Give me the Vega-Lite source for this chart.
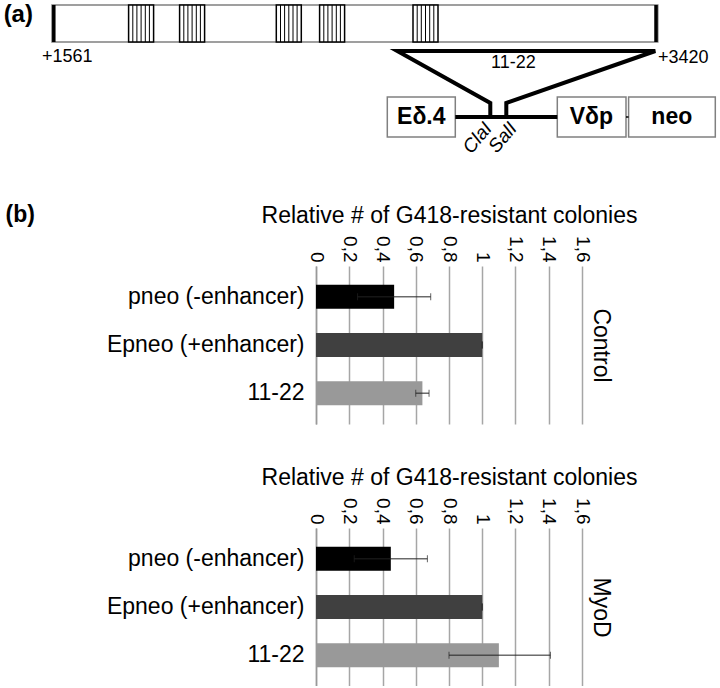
{
  "$schema": "https://vega.github.io/schema/vega-lite/v6.json",
  "padding": {"left": 3, "top": 0, "right": 0, "bottom": 0},
  "config": {"font": "Liberation Sans", "view": {"stroke": null}},
  "datasets": {
    "outlines": [
      {"part": "gene", "x": 51.7, "x2": 657.5, "y": 5, "y2": 42},
      {"part": "Eδ.4", "x": 387, "x2": 455, "y": 97, "y2": 137},
      {"part": "Vδp", "x": 557, "x2": 625.7, "y": 97, "y2": 137},
      {"part": "neo", "x": 628.3, "x2": 715, "y": 97, "y2": 137}
    ],
    "repeats": [
      {"x": 128.3, "x2": 153.3, "y": 5, "y2": 42},
      {"x": 179.3, "x2": 204.3, "y": 5, "y2": 42},
      {"x": 276, "x2": 301, "y": 5, "y2": 42},
      {"x": 319.3, "x2": 344.3, "y": 5, "y2": 42},
      {"x": 412.7, "x2": 437.7, "y": 5, "y2": 42}
    ],
    "stripes": [
      {"x": 132.5, "y": 5, "y2": 42}, {"x": 136.6, "y": 5, "y2": 42}, {"x": 140.8, "y": 5, "y2": 42}, {"x": 145.0, "y": 5, "y2": 42}, {"x": 149.1, "y": 5, "y2": 42},
      {"x": 183.5, "y": 5, "y2": 42}, {"x": 187.6, "y": 5, "y2": 42}, {"x": 191.8, "y": 5, "y2": 42}, {"x": 196.0, "y": 5, "y2": 42}, {"x": 200.1, "y": 5, "y2": 42},
      {"x": 280.2, "y": 5, "y2": 42}, {"x": 284.3, "y": 5, "y2": 42}, {"x": 288.5, "y": 5, "y2": 42}, {"x": 292.7, "y": 5, "y2": 42}, {"x": 296.8, "y": 5, "y2": 42},
      {"x": 323.5, "y": 5, "y2": 42}, {"x": 327.6, "y": 5, "y2": 42}, {"x": 331.8, "y": 5, "y2": 42}, {"x": 336.0, "y": 5, "y2": 42}, {"x": 340.1, "y": 5, "y2": 42},
      {"x": 416.9, "y": 5, "y2": 42}, {"x": 421.0, "y": 5, "y2": 42}, {"x": 425.2, "y": 5, "y2": 42}, {"x": 429.4, "y": 5, "y2": 42}, {"x": 433.5, "y": 5, "y2": 42}
    ],
    "ends": [
      {"x": 53.5, "y": 5, "y2": 42},
      {"x": 655.7, "y": 5, "y2": 42}
    ],
    "wires": [
      {"path": "insert", "step": 1, "x": 490, "y": 117},
      {"path": "insert", "step": 2, "x": 490, "y": 103},
      {"path": "insert", "step": 3, "x": 397, "y": 51},
      {"path": "insert", "step": 4, "x": 655, "y": 51},
      {"path": "insert", "step": 5, "x": 506, "y": 103},
      {"path": "insert", "step": 6, "x": 506, "y": 117},
      {"path": "backbone", "step": 1, "x": 455, "y": 117},
      {"path": "backbone", "step": 2, "x": 557, "y": 117}
    ],
    "links": [
      {"x": 625.7, "x2": 628.3, "y": 117}
    ],
    "coords": [
      {"label": "+1561", "x": 67, "y": 57},
      {"label": "+3420", "x": 683, "y": 58},
      {"label": "11-22", "x": 513, "y": 63}
    ],
    "elements": [
      {"label": "Eδ.4", "x": 421, "y": 117},
      {"label": "Vδp", "x": 591, "y": 117},
      {"label": "neo", "x": 671.5, "y": 117}
    ],
    "sites": [
      {"label": "ClaI", "x": 488, "y": 125},
      {"label": "SalI", "x": 513, "y": 125}
    ],
    "panel": [
      {"label": "(a)", "x": 18, "y": 15}
    ],
    "bars": [
      {"condition": "Control", "construct": "pneo (-enhancer)", "value": 0.47, "lo": 0.25, "hi": 0.69},
      {"condition": "Control", "construct": "Epneo (+enhancer)", "value": 1.0, "lo": 1.0, "hi": 1.0},
      {"condition": "Control", "construct": "11-22", "value": 0.64, "lo": 0.6, "hi": 0.68},
      {"condition": "MyoD", "construct": "pneo (-enhancer)", "value": 0.45, "lo": 0.23, "hi": 0.67},
      {"condition": "MyoD", "construct": "Epneo (+enhancer)", "value": 1.0, "lo": 1.0, "hi": 1.0},
      {"condition": "MyoD", "construct": "11-22", "value": 1.1, "lo": 0.8, "hi": 1.41}
    ]
  },
  "spacing": 42,
  "vconcat": [
    {
      "width": 404.3,
      "height": 161,
      "layer": [
        {
          "data": {"name": "outlines"},
          "mark": {"type": "rect", "fill": "#ffffff", "stroke": "#808080", "strokeWidth": 1.5},
          "encoding": {
            "x": {"field": "x", "type": "quantitative", "scale": {"domain": [315.7, 720], "nice": false, "zero": false}, "axis": null},
            "x2": {"field": "x2"},
            "y": {"field": "y", "type": "quantitative", "scale": {"domain": [0, 161], "reverse": true, "nice": false, "zero": false}, "axis": null},
            "y2": {"field": "y2"}
          }
        },
        {
          "data": {"name": "repeats"},
          "mark": {"type": "rect", "fill": "#ffffff", "stroke": "#000000", "strokeWidth": 1.5},
          "encoding": {
            "x": {"field": "x", "type": "quantitative"},
            "x2": {"field": "x2"},
            "y": {"field": "y", "type": "quantitative"},
            "y2": {"field": "y2"}
          }
        },
        {
          "data": {"name": "stripes"},
          "mark": {"type": "rule", "color": "#000000", "strokeWidth": 1},
          "encoding": {
            "x": {"field": "x", "type": "quantitative"},
            "y": {"field": "y", "type": "quantitative"},
            "y2": {"field": "y2"}
          }
        },
        {
          "data": {"name": "ends"},
          "mark": {"type": "rule", "color": "#000000", "strokeWidth": 3.5},
          "encoding": {
            "x": {"field": "x", "type": "quantitative"},
            "y": {"field": "y", "type": "quantitative"},
            "y2": {"field": "y2"}
          }
        },
        {
          "data": {"name": "wires"},
          "mark": {"type": "line", "color": "#000000", "strokeWidth": 4, "strokeJoin": "miter"},
          "encoding": {
            "x": {"field": "x", "type": "quantitative"},
            "y": {"field": "y", "type": "quantitative"},
            "detail": {"field": "path", "type": "nominal"},
            "order": {"field": "step", "type": "quantitative"}
          }
        },
        {
          "data": {"name": "links"},
          "mark": {"type": "rule", "color": "#000000", "strokeWidth": 1.5},
          "encoding": {
            "x": {"field": "x", "type": "quantitative"},
            "x2": {"field": "x2"},
            "y": {"field": "y", "type": "quantitative"}
          }
        },
        {
          "data": {"name": "coords"},
          "mark": {"type": "text", "fontSize": 18, "color": "#000000", "align": "center", "baseline": "middle"},
          "encoding": {
            "x": {"field": "x", "type": "quantitative"},
            "y": {"field": "y", "type": "quantitative"},
            "text": {"field": "label"}
          }
        },
        {
          "data": {"name": "elements"},
          "mark": {"type": "text", "fontSize": 23, "fontWeight": "bold", "color": "#000000", "align": "center", "baseline": "middle"},
          "encoding": {
            "x": {"field": "x", "type": "quantitative"},
            "y": {"field": "y", "type": "quantitative"},
            "text": {"field": "label"}
          }
        },
        {
          "data": {"name": "sites"},
          "mark": {"type": "text", "fontSize": 19, "fontStyle": "italic", "color": "#000000", "align": "right", "baseline": "middle", "angle": -50},
          "encoding": {
            "x": {"field": "x", "type": "quantitative"},
            "y": {"field": "y", "type": "quantitative"},
            "text": {"field": "label"}
          }
        },
        {
          "data": {"name": "panel"},
          "mark": {"type": "text", "fontSize": 24, "fontWeight": "bold", "color": "#000000", "align": "center", "baseline": "middle"},
          "encoding": {
            "x": {"field": "x", "type": "quantitative"},
            "y": {"field": "y", "type": "quantitative"},
            "text": {"field": "label"}
          }
        }
      ]
    },
    {
      "width": 266,
      "height": 158,
      "data": {"name": "bars"},
      "transform": [{"filter": "datum.condition === 'Control'"}],
      "resolve": {"axis": {"y": "independent"}},
      "layer": [
        {
          "mark": {"type": "bar"},
          "encoding": {
            "y": {"field": "construct", "type": "nominal", "sort": ["pneo (-enhancer)", "Epneo (+enhancer)", "11-22"],
              "scale": {"paddingInner": 0.5, "paddingOuter": 0.39},
              "axis": {"title": "(b)", "titleAngle": 0, "titleX": -311, "titleY": -52, "titleAlign": "left", "titleBaseline": "middle", "titleFontSize": 23, "titleFontWeight": "bold", "titleColor": "#000000", "labelFontSize": 23, "labelPadding": 12, "labelLimit": 400, "labelColor": "#000000", "ticks": false, "domainColor": "#999999", "domainWidth": 1.5}},
            "x": {"field": "value", "type": "quantitative", "scale": {"domain": [0, 1.6], "nice": false},
              "axis": {"orient": "top", "title": "Relative # of G418-resistant colonies", "titleFontSize": 23, "titleFontWeight": "normal", "titleColor": "#000000", "titlePadding": 8, "values": [0, 0.2, 0.4, 0.6, 0.8, 1, 1.2, 1.4, 1.6], "labelExpr": "replace(format(datum.value, '.1~f'), '.', ',')", "labelAngle": 90, "labelFontSize": 19, "labelPadding": 4, "labelColor": "#000000", "labelOverlap": false, "labelFlush": false, "ticks": false, "domain": false, "grid": true, "gridColor": "#a6a6a6", "gridWidth": 1.5}},
            "color": {"field": "construct", "type": "nominal", "scale": {"domain": ["pneo (-enhancer)", "Epneo (+enhancer)", "11-22"], "range": ["#000000", "#404040", "#999999"]}, "legend": null}
          }
        },
        {
          "mark": {"type": "rule", "color": "#222222", "strokeWidth": 1},
          "encoding": {
            "y": {"field": "construct", "type": "nominal", "sort": ["pneo (-enhancer)", "Epneo (+enhancer)", "11-22"],
              "axis": {"orient": "right", "title": "Control", "titleAngle": 90, "titleFontSize": 23, "titleFontWeight": "normal", "titleColor": "#000000", "titlePadding": 6, "labels": false, "ticks": false, "domain": false, "grid": false}},
            "x": {"field": "lo", "type": "quantitative",
              "axis": {"orient": "top", "title": "Relative # of G418-resistant colonies", "titleFontSize": 23, "titleFontWeight": "normal", "titleColor": "#000000", "titlePadding": 8, "values": [0, 0.2, 0.4, 0.6, 0.8, 1, 1.2, 1.4, 1.6], "labelExpr": "replace(format(datum.value, '.1~f'), '.', ',')", "labelAngle": 90, "labelFontSize": 19, "labelPadding": 4, "labelColor": "#000000", "labelOverlap": false, "labelFlush": false, "ticks": false, "domain": false, "grid": true, "gridColor": "#a6a6a6", "gridWidth": 1.5}},
            "x2": {"field": "hi"}
          }
        },
        {
          "mark": {"type": "tick", "color": "#222222", "thickness": 1, "size": 7},
          "encoding": {
            "y": {"field": "construct", "type": "nominal", "sort": ["pneo (-enhancer)", "Epneo (+enhancer)", "11-22"], "axis": null},
            "x": {"field": "lo", "type": "quantitative",
              "axis": {"orient": "top", "title": "Relative # of G418-resistant colonies", "titleFontSize": 23, "titleFontWeight": "normal", "titleColor": "#000000", "titlePadding": 8, "values": [0, 0.2, 0.4, 0.6, 0.8, 1, 1.2, 1.4, 1.6], "labelExpr": "replace(format(datum.value, '.1~f'), '.', ',')", "labelAngle": 90, "labelFontSize": 19, "labelPadding": 4, "labelColor": "#000000", "labelOverlap": false, "labelFlush": false, "ticks": false, "domain": false, "grid": true, "gridColor": "#a6a6a6", "gridWidth": 1.5}}
          }
        },
        {
          "mark": {"type": "tick", "color": "#222222", "thickness": 1, "size": 7},
          "encoding": {
            "y": {"field": "construct", "type": "nominal", "sort": ["pneo (-enhancer)", "Epneo (+enhancer)", "11-22"], "axis": null},
            "x": {"field": "hi", "type": "quantitative",
              "axis": {"orient": "top", "title": "Relative # of G418-resistant colonies", "titleFontSize": 23, "titleFontWeight": "normal", "titleColor": "#000000", "titlePadding": 8, "values": [0, 0.2, 0.4, 0.6, 0.8, 1, 1.2, 1.4, 1.6], "labelExpr": "replace(format(datum.value, '.1~f'), '.', ',')", "labelAngle": 90, "labelFontSize": 19, "labelPadding": 4, "labelColor": "#000000", "labelOverlap": false, "labelFlush": false, "ticks": false, "domain": false, "grid": true, "gridColor": "#a6a6a6", "gridWidth": 1.5}}
          }
        }
      ]
    },
    {
      "width": 266,
      "height": 158,
      "data": {"name": "bars"},
      "transform": [{"filter": "datum.condition === 'MyoD'"}],
      "resolve": {"axis": {"y": "independent"}},
      "layer": [
        {
          "mark": {"type": "bar"},
          "encoding": {
            "y": {"field": "construct", "type": "nominal", "sort": ["pneo (-enhancer)", "Epneo (+enhancer)", "11-22"],
              "scale": {"paddingInner": 0.5, "paddingOuter": 0.39},
              "axis": {"title": null, "labelFontSize": 23, "labelPadding": 12, "labelLimit": 400, "labelColor": "#000000", "ticks": false, "domainColor": "#999999", "domainWidth": 1.5}},
            "x": {"field": "value", "type": "quantitative", "scale": {"domain": [0, 1.6], "nice": false},
              "axis": {"orient": "top", "title": "Relative # of G418-resistant colonies", "titleFontSize": 23, "titleFontWeight": "normal", "titleColor": "#000000", "titlePadding": 8, "values": [0, 0.2, 0.4, 0.6, 0.8, 1, 1.2, 1.4, 1.6], "labelExpr": "replace(format(datum.value, '.1~f'), '.', ',')", "labelAngle": 90, "labelFontSize": 19, "labelPadding": 4, "labelColor": "#000000", "labelOverlap": false, "labelFlush": false, "ticks": false, "domain": false, "grid": true, "gridColor": "#a6a6a6", "gridWidth": 1.5}},
            "color": {"field": "construct", "type": "nominal", "scale": {"domain": ["pneo (-enhancer)", "Epneo (+enhancer)", "11-22"], "range": ["#000000", "#404040", "#999999"]}, "legend": null}
          }
        },
        {
          "mark": {"type": "rule", "color": "#222222", "strokeWidth": 1},
          "encoding": {
            "y": {"field": "construct", "type": "nominal", "sort": ["pneo (-enhancer)", "Epneo (+enhancer)", "11-22"],
              "axis": {"orient": "right", "title": "MyoD", "titleAngle": 90, "titleFontSize": 23, "titleFontWeight": "normal", "titleColor": "#000000", "titlePadding": 6, "labels": false, "ticks": false, "domain": false, "grid": false}},
            "x": {"field": "lo", "type": "quantitative",
              "axis": {"orient": "top", "title": "Relative # of G418-resistant colonies", "titleFontSize": 23, "titleFontWeight": "normal", "titleColor": "#000000", "titlePadding": 8, "values": [0, 0.2, 0.4, 0.6, 0.8, 1, 1.2, 1.4, 1.6], "labelExpr": "replace(format(datum.value, '.1~f'), '.', ',')", "labelAngle": 90, "labelFontSize": 19, "labelPadding": 4, "labelColor": "#000000", "labelOverlap": false, "labelFlush": false, "ticks": false, "domain": false, "grid": true, "gridColor": "#a6a6a6", "gridWidth": 1.5}},
            "x2": {"field": "hi"}
          }
        },
        {
          "mark": {"type": "tick", "color": "#222222", "thickness": 1, "size": 7},
          "encoding": {
            "y": {"field": "construct", "type": "nominal", "sort": ["pneo (-enhancer)", "Epneo (+enhancer)", "11-22"], "axis": null},
            "x": {"field": "lo", "type": "quantitative",
              "axis": {"orient": "top", "title": "Relative # of G418-resistant colonies", "titleFontSize": 23, "titleFontWeight": "normal", "titleColor": "#000000", "titlePadding": 8, "values": [0, 0.2, 0.4, 0.6, 0.8, 1, 1.2, 1.4, 1.6], "labelExpr": "replace(format(datum.value, '.1~f'), '.', ',')", "labelAngle": 90, "labelFontSize": 19, "labelPadding": 4, "labelColor": "#000000", "labelOverlap": false, "labelFlush": false, "ticks": false, "domain": false, "grid": true, "gridColor": "#a6a6a6", "gridWidth": 1.5}}
          }
        },
        {
          "mark": {"type": "tick", "color": "#222222", "thickness": 1, "size": 7},
          "encoding": {
            "y": {"field": "construct", "type": "nominal", "sort": ["pneo (-enhancer)", "Epneo (+enhancer)", "11-22"], "axis": null},
            "x": {"field": "hi", "type": "quantitative",
              "axis": {"orient": "top", "title": "Relative # of G418-resistant colonies", "titleFontSize": 23, "titleFontWeight": "normal", "titleColor": "#000000", "titlePadding": 8, "values": [0, 0.2, 0.4, 0.6, 0.8, 1, 1.2, 1.4, 1.6], "labelExpr": "replace(format(datum.value, '.1~f'), '.', ',')", "labelAngle": 90, "labelFontSize": 19, "labelPadding": 4, "labelColor": "#000000", "labelOverlap": false, "labelFlush": false, "ticks": false, "domain": false, "grid": true, "gridColor": "#a6a6a6", "gridWidth": 1.5}}
          }
        }
      ]
    }
  ]
}
